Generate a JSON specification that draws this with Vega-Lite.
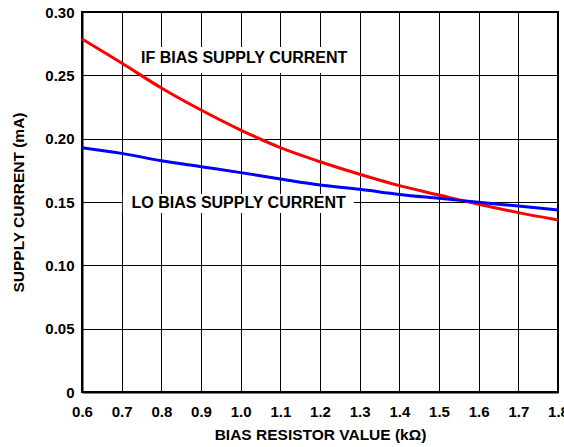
{
  "$schema": "https://vega.github.io/schema/vega-lite/v6.json",
  "autosize": "none",
  "width": 476,
  "height": 380,
  "padding": {"left": 82, "top": 12, "right": 6, "bottom": 55},
  "background": "white",
  "config": {
    "view": {"stroke": "black", "strokeWidth": 2},
    "font": "Liberation Sans",
    "axis": {
      "domainColor": "black",
      "domainWidth": 2,
      "gridColor": "black",
      "gridOpacity": 1,
      "gridWidth": 1,
      "ticks": false,
      "labelFont": "Liberation Sans",
      "labelFontWeight": "bold",
      "labelFontSize": 15,
      "labelColor": "black",
      "labelFlush": false,
      "labelOverlap": false,
      "titleFont": "Liberation Sans",
      "titleFontWeight": "bold",
      "titleFontSize": 15.5,
      "titleColor": "black"
    }
  },
  "datasets": {
    "curves": [
      {"r": 0.6, "current": 0.2787, "series": "IF"},
      {"r": 0.7, "current": 0.2597, "series": "IF"},
      {"r": 0.8, "current": 0.2400, "series": "IF"},
      {"r": 0.9, "current": 0.2226, "series": "IF"},
      {"r": 1.0, "current": 0.2068, "series": "IF"},
      {"r": 1.1, "current": 0.1929, "series": "IF"},
      {"r": 1.2, "current": 0.1818, "series": "IF"},
      {"r": 1.3, "current": 0.1719, "series": "IF"},
      {"r": 1.4, "current": 0.1629, "series": "IF"},
      {"r": 1.5, "current": 0.1555, "series": "IF"},
      {"r": 1.6, "current": 0.1482, "series": "IF"},
      {"r": 1.7, "current": 0.1416, "series": "IF"},
      {"r": 1.8, "current": 0.1358, "series": "IF"},
      {"r": 0.6, "current": 0.1929, "series": "LO"},
      {"r": 0.7, "current": 0.1884, "series": "LO"},
      {"r": 0.8, "current": 0.1826, "series": "LO"},
      {"r": 0.9, "current": 0.1779, "series": "LO"},
      {"r": 1.0, "current": 0.1732, "series": "LO"},
      {"r": 1.1, "current": 0.1682, "series": "LO"},
      {"r": 1.2, "current": 0.1634, "series": "LO"},
      {"r": 1.3, "current": 0.1600, "series": "LO"},
      {"r": 1.4, "current": 0.1560, "series": "LO"},
      {"r": 1.5, "current": 0.1529, "series": "LO"},
      {"r": 1.6, "current": 0.1498, "series": "LO"},
      {"r": 1.7, "current": 0.1468, "series": "LO"},
      {"r": 1.8, "current": 0.1437, "series": "LO"}
    ],
    "labels": [
      {"text": "IF BIAS SUPPLY CURRENT", "r": 1.009, "current": 0.2637, "r1": 0.732, "r2": 1.277, "c1": 0.2518, "c2": 0.2724},
      {"text": "LO BIAS SUPPLY CURRENT", "r": 0.995, "current": 0.1495, "r1": 0.703, "r2": 1.285, "c1": 0.1413, "c2": 0.1563}
    ]
  },
  "layer": [
    {
      "data": {"name": "labels"},
      "mark": {"type": "rect", "fill": "white", "stroke": null},
      "encoding": {
        "x": {"field": "r1", "type": "quantitative", "scale": {"domain": [0.6, 1.8], "nice": false, "zero": false},
          "axis": {"values": [0.6,0.7,0.8,0.9,1.0,1.1,1.2,1.3,1.4,1.5,1.6,1.7,1.8], "format": ".1f", "labelPadding": 12, "titlePadding": 8, "title": "BIAS RESISTOR VALUE (kΩ)"}},
        "x2": {"field": "r2"},
        "y": {"field": "c1", "type": "quantitative", "scale": {"domain": [0, 0.30], "nice": false},
          "axis": {"values": [0, 0.05, 0.10, 0.15, 0.20, 0.25, 0.30], "labelExpr": "datum.value == 0 ? '0' : format(datum.value, '.2f')", "labelPadding": 8, "titlePadding": 18, "title": "SUPPLY CURRENT (mA)"}},
        "y2": {"field": "c2"}
      }
    },
    {
      "data": {"name": "curves"},
      "mark": {"type": "line", "strokeWidth": 3, "interpolate": "monotone"},
      "encoding": {
        "x": {"field": "r", "type": "quantitative",
          "axis": {"values": [0.6,0.7,0.8,0.9,1.0,1.1,1.2,1.3,1.4,1.5,1.6,1.7,1.8], "format": ".1f", "labelPadding": 12, "titlePadding": 8, "title": "BIAS RESISTOR VALUE (kΩ)"}},
        "y": {"field": "current", "type": "quantitative",
          "axis": {"values": [0, 0.05, 0.10, 0.15, 0.20, 0.25, 0.30], "labelExpr": "datum.value == 0 ? '0' : format(datum.value, '.2f')", "labelPadding": 8, "titlePadding": 18, "title": "SUPPLY CURRENT (mA)"}},
        "color": {"field": "series", "type": "nominal", "scale": {"domain": ["IF", "LO"], "range": ["#ff0000", "#0000ff"]}, "legend": null}
      }
    },
    {
      "data": {"name": "labels"},
      "mark": {"type": "text", "font": "Liberation Sans", "fontWeight": "bold", "fontSize": 16, "color": "black", "align": "center", "baseline": "middle"},
      "encoding": {
        "x": {"field": "r", "type": "quantitative",
          "axis": {"values": [0.6,0.7,0.8,0.9,1.0,1.1,1.2,1.3,1.4,1.5,1.6,1.7,1.8], "format": ".1f", "labelPadding": 12, "titlePadding": 8, "title": "BIAS RESISTOR VALUE (kΩ)"}},
        "y": {"field": "current", "type": "quantitative",
          "axis": {"values": [0, 0.05, 0.10, 0.15, 0.20, 0.25, 0.30], "labelExpr": "datum.value == 0 ? '0' : format(datum.value, '.2f')", "labelPadding": 8, "titlePadding": 18, "title": "SUPPLY CURRENT (mA)"}},
        "text": {"field": "text"}
      }
    }
  ]
}
